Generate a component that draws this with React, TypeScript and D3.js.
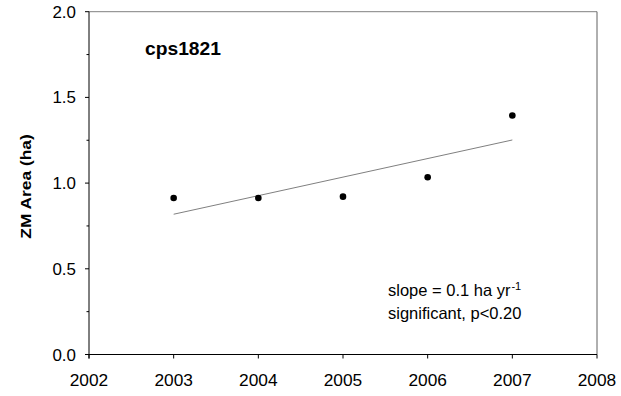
import React from "react";
import * as d3 from "d3";

const years = [2003, 2004, 2005, 2006, 2007];
const area = [0.913, 0.913, 0.921, 1.034, 1.394];
const xTicks = [2002, 2003, 2004, 2005, 2006, 2007, 2008];
const yTicks = [0, 0.5, 1.0, 1.5, 2.0];
const yMinor = [0.25, 0.75, 1.25, 1.75];
const siteName = "cps1821";
const yLabel = "ZM Area (ha)";
const annot1 = "slope = 0.1 ha yr";
const annot2 = "significant, p<0.20";

const W = 621, H = 396;
const L = 89, R = 597, T = 11.7, B = 354.5;

function Txt({ x, y, size, sx = 1, anchor = "start", weight = "normal", rotate = 0, children }: any) {
  return (
    <text
      transform={`translate(${x},${y}) rotate(${rotate}) scale(${sx},1)`}
      fontSize={size}
      fontWeight={weight}
      textAnchor={anchor}
      fontFamily="'Liberation Sans', Arial, sans-serif"
      fill="#000"
    >
      {children}
    </text>
  );
}

export default function App() {
  const x = d3.scaleLinear().domain([2002, 2008]).range([L, R]);
  const y = d3.scaleLinear().domain([0, 2]).range([B, T]);
  const mx = d3.mean(years)!;
  const my = d3.mean(area)!;
  const slope = d3.sum(years.map((v, i) => (v - mx) * (area[i] - my))) / d3.sum(years.map((v) => (v - mx) ** 2));
  const icpt = my - slope * mx;
  const x0 = years[0], x1 = years[years.length - 1];
  const line = d3.line<number>().x((d) => x(d)).y((d) => y(icpt + slope * d));

  return (
    <svg width={W} height={H} style={{ position: "absolute", left: 0, top: 0, background: "#fff" }}>
      <rect x={0} y={0} width={W} height={H} fill="#fff" />
      {/* frame */}
      <line x1={L} x2={R} y1={T} y2={T} stroke="#808080" strokeWidth={1} />
      <line x1={R} x2={R} y1={T} y2={B} stroke="#606060" strokeWidth={1} />
      <line x1={L} x2={L} y1={T} y2={B + 4} stroke="#000" strokeWidth={1} />
      <line x1={L - 4} x2={R} y1={B} y2={B} stroke="#000" strokeWidth={1} />
      {yTicks.map((t) => (
        <g key={"y" + t}>
          <line x1={L - 4} x2={L} y1={y(t)} y2={y(t)} stroke="#000" />
          <Txt x={L - 13} y={y(t) + 6} size={16} sx={1.06} anchor="end">{t.toFixed(1)}</Txt>
        </g>
      ))}
      {yMinor.map((t) => (
        <line key={"m" + t} x1={L - 2.5} x2={L} y1={y(t)} y2={y(t)} stroke="#000" />
      ))}
      {xTicks.map((t) => (
        <g key={"x" + t}>
          <line x1={x(t)} x2={x(t)} y1={B} y2={B + 4} stroke="#000" />
          <Txt x={x(t)} y={385.5} size={16.5} sx={1.05} anchor="middle">{t}</Txt>
        </g>
      ))}
      <path d={line([x0, x1]) || ""} stroke="#808080" strokeWidth={1} fill="none" />
      {years.map((v, i) => (
        <circle key={v} cx={x(v)} cy={y(area[i])} r={3.3} fill="#000" />
      ))}
      <Txt x={145} y={55} size={18.5} sx={1.04} weight="bold">{siteName}</Txt>
      <Txt x={30.5} y={186.5} size={15.5} sx={1.12} weight="bold" anchor="middle" rotate={-90}>{yLabel}</Txt>
      <text x={388} y={296} fontSize={16.5} fontFamily="'Liberation Sans', Arial, sans-serif">
        {annot1}
        <tspan fontSize={11} dx={1} dy={-6.5}>-1</tspan>
      </text>
      <Txt x={388} y={319} size={16.5} anchor="start">{annot2}</Txt>
    </svg>
  );
}
